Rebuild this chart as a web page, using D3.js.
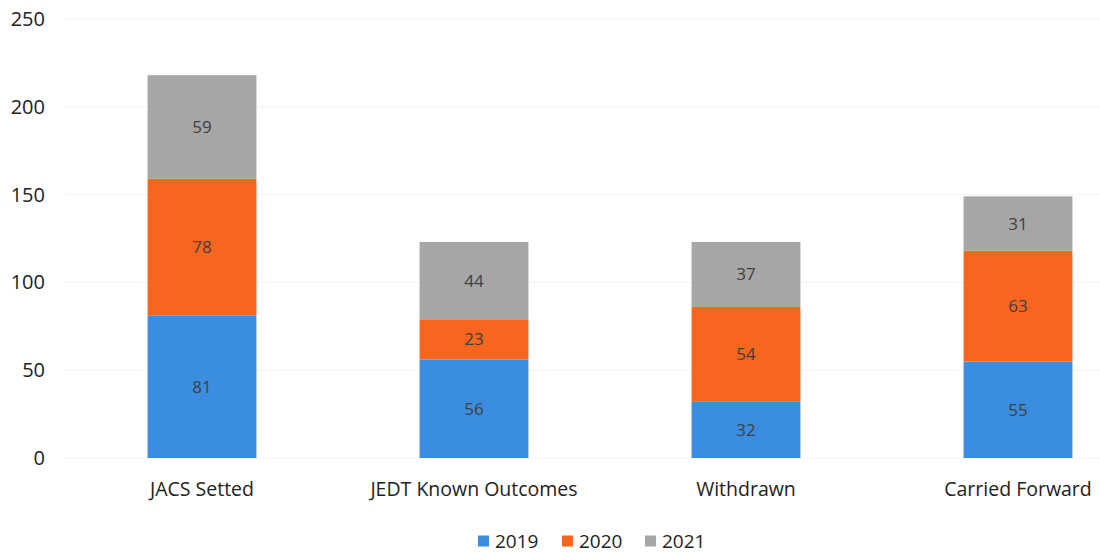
<!DOCTYPE html>
<html>
<head>
<meta charset="utf-8">
<script src="https://cdn.jsdelivr.net/npm/d3@7"></script>
<style>
  body { margin: 0; background: #fff; }
  svg text { font-family: "Open Sans", "Liberation Sans", sans-serif; }
  .grid line { stroke: #f2f2f2; stroke-width: 1px; }
</style>
</head>
<body>
<div id="container"></div>
<script>
  var categories = ["JACS Setted", "JEDT Known Outcomes", "Withdrawn", "Carried Forward"];
  var years = ["2019", "2020", "2021"];
  var v2019 = [81, 56, 32, 55];
  var v2020 = [78, 23, 54, 63];
  var v2021 = [59, 44, 37, 31];
  var yTicks = [0, 50, 100, 150, 200, 250];
  var colors = ["#3b8de0", "#f7651f", "#a6a6a6"];

  var width = 1100, height = 553;
  var svg = d3.select("#container").append("svg")
    .attr("width", width)
    .attr("height", height);

  var xScale = d3.scaleBand()
    .domain(categories)
    .range([66, 1154])
    .paddingInner(0.6)
    .paddingOuter(0.3);

  var yScale = d3.scaleLinear()
    .domain([0, 250])
    .range([458, 19]);

  // gridlines
  svg.append("g")
    .attr("class", "grid")
    .selectAll("line")
    .data(yTicks)
    .enter().append("line")
      .attr("x1", 66)
      .attr("x2", 1100)
      .attr("y1", d => yScale(d))
      .attr("y2", d => yScale(d));

  // y axis labels
  svg.append("g")
    .selectAll("text")
    .data(yTicks)
    .enter().append("text")
      .attr("x", 45)
      .attr("y", d => yScale(d))
      .attr("dy", "0.35em")
      .attr("text-anchor", "end")
      .attr("font-size", "20px")
      .attr("fill", "#222")
      .text(d => d);

  var rows = categories.map(function(c, i) {
    return { cat: c, "2019": v2019[i], "2020": v2020[i], "2021": v2021[i] };
  });
  var series = d3.stack().keys(years)(rows);

  var layers = svg.append("g").selectAll("g")
    .data(series)
    .enter().append("g")
      .attr("fill", (d, i) => colors[i]);

  layers.selectAll("rect")
    .data(d => d)
    .enter().append("rect")
      .attr("x", d => xScale(d.data.cat))
      .attr("width", xScale.bandwidth())
      .attr("y", d => yScale(d[1]))
      .attr("height", d => yScale(d[0]) - yScale(d[1]));

  layers.selectAll("text")
    .data(d => d)
    .enter().append("text")
      .attr("x", d => xScale(d.data.cat) + xScale.bandwidth() / 2)
      .attr("y", d => yScale((d[0] + d[1]) / 2))
      .attr("dy", "0.35em")
      .attr("text-anchor", "middle")
      .attr("font-size", "17px")
      .attr("fill", "#404040")
      .text(d => d[1] - d[0]);

  // category labels
  svg.append("g")
    .selectAll("text")
    .data(categories)
    .enter().append("text")
      .attr("x", d => xScale(d) + xScale.bandwidth() / 2)
      .attr("y", 489)
      .attr("dy", "0.35em")
      .attr("text-anchor", "middle")
      .attr("font-size", "19.5px")
      .attr("fill", "#222")
      .text(d => d);

  // legend
  var legendX = [478, 562, 645];
  var legend = svg.append("g").selectAll("g")
    .data(years)
    .enter().append("g")
      .attr("transform", (d, i) => "translate(" + legendX[i] + ",541)");
  legend.append("rect")
    .attr("x", 0)
    .attr("y", -5.5)
    .attr("width", 11)
    .attr("height", 11)
    .attr("fill", (d, i) => colors[i]);
  legend.append("text")
    .attr("x", 17)
    .attr("dy", "0.35em")
    .attr("font-size", "19px")
    .attr("fill", "#222")
    .text(d => d);
</script>
</body>
</html>
